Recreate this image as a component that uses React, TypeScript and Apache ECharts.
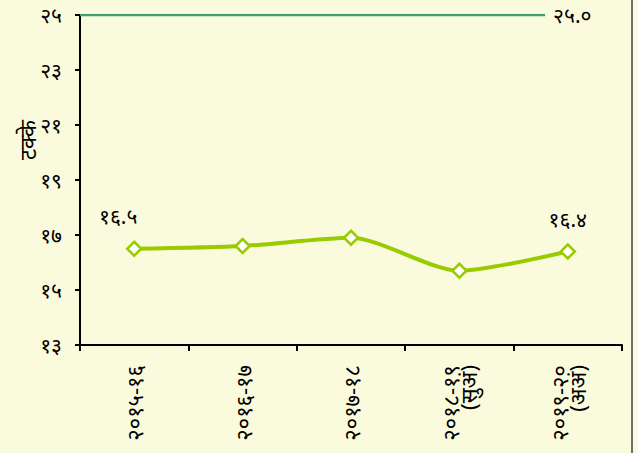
import React, { useEffect, useRef } from "react";
import * as echarts from "echarts";

const categories = ["२०१५-१६", "२०१६-१७", "२०१७-१८", "२०१८-१९\n(सुअं)", "२०१९-२०\n(अअं)"];
const values = [16.5, 16.6, 16.9, 15.7, 16.4];
const labelledIdx = [0, 4];
const targetValue = 25;
const targetEnd = 0.858;
const yName = "टक्के";

const devDigits = "०१२३४५६७८९";
const toDev = (s: string | number) => String(s).replace(/[0-9]/g, (d) => devDigits[Number(d)]);

const FONT = "'Noto Sans', 'DejaVu Sans', sans-serif";
const FS = 21;

export default function App() {
  const ref = useRef<HTMLDivElement>(null);
  useEffect(() => {
    const chart = echarts.init(ref.current!, undefined, { renderer: "svg" });
    chart.setOption({
      animation: false,
      backgroundColor: "#fafadc",
      textStyle: { fontFamily: FONT },
      grid: { left: 80, top: 15, right: 16, bottom: 108 },
      xAxis: [
        {
          type: "category",
          data: categories,
          boundaryGap: true,
          axisLine: { lineStyle: { color: "#000", width: 2 } },
          axisTick: { show: true, length: 6, lineStyle: { color: "#000", width: 2 } },
          axisLabel: { rotate: 90, margin: 20, fontSize: 22, color: "#000", fontFamily: FONT, lineHeight: 18 },
        },
        { type: "value", min: 0, max: 1, show: false },
      ],
      yAxis: {
        type: "value",
        min: 13,
        max: 25,
        interval: 2,
        axisLine: { show: true, lineStyle: { color: "#000", width: 2 } },
        axisTick: { show: true, length: 5, lineStyle: { color: "#000", width: 2 } },
        splitLine: { show: false },
        axisLabel: { fontSize: FS, color: "#000", margin: 18, fontFamily: FONT, formatter: (v: number) => toDev(v) },
      },
      graphic: [
        {
          type: "text",
          x: 27,
          y: 140,
          rotation: Math.PI / 2,
          style: { text: yName, fontSize: 22, fill: "#000", fontFamily: FONT, align: "center", verticalAlign: "middle" },
        },
        { type: "line", shape: { x1: 632, y1: 0, x2: 632, y2: 453 }, style: { stroke: "#6e6e6e", lineWidth: 2 } },
      ],
      series: [
        {
          type: "line",
          data: values.map((v, i) =>
            labelledIdx.includes(i)
              ? { value: v, label: { show: true, offset: i === 0 ? [-16, 0] : [0, 0] } }
              : v
          ),
          smooth: 0.25,
          symbol: "diamond",
          symbolSize: 14,
          lineStyle: { color: "#99cc00", width: 4 },
          itemStyle: { color: "#ffffff", borderColor: "#99cc00", borderWidth: 2.5 },
          label: {
            show: false,
            position: "top",
            distance: 14,
            fontSize: FS,
            color: "#000",
            fontFamily: FONT,
            formatter: (p: any) => toDev(p.value.toFixed(1)),
          },
          z: 3,
        },
        {
          type: "line",
          xAxisIndex: 1,
          data: [
            [0, targetValue],
            [targetEnd, targetValue],
          ],
          symbol: "none",
          lineStyle: { color: "#3fa070", width: 2.5 },
          label: { show: false },
          endLabel: {
            show: true,
            distance: 8,
            fontSize: FS,
            color: "#000",
            fontFamily: FONT,
            formatter: () => toDev(targetValue.toFixed(1)),
          },
          z: 2,
        },
      ],
    });
    return () => chart.dispose();
  }, []);
  return <div ref={ref} style={{ position: "fixed", left: 0, top: 0, width: 638, height: 453 }} />;
}
